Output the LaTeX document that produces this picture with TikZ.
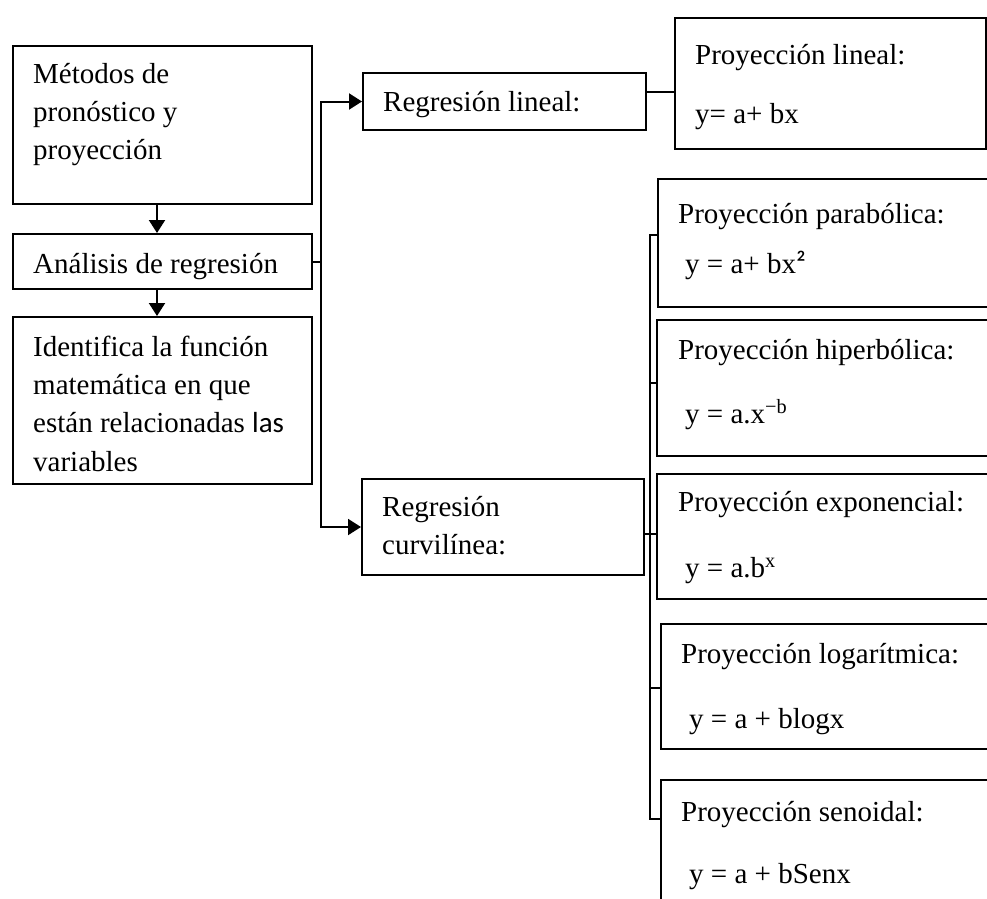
\documentclass[tikz,border=0pt]{standalone}
\usepackage{fontspec}
\setmainfont{Liberation Serif}
\newfontfamily\altsans{Carlito}
\usetikzlibrary{arrows.meta}

\begin{document}
\begin{tikzpicture}[x=1pt,y=-1pt,
  box/.style={draw, line width=2pt, rectangle, inner sep=0pt, anchor=north west},
  txt/.style={anchor=base west, inner sep=0pt, font=\fontsize{29}{38}\selectfont},
  link/.style={line width=2pt},
  thinlink/.style={line width=1.5pt},
  arr/.style={line width=2pt, -{Triangle[width=16pt,length=13pt]}}]
\useasboundingbox (0,0) rectangle (987,898);

% left column
\node[box, minimum width=299pt, minimum height=158pt] (metodos) at (12,45) {};
\node[box, minimum width=299pt, minimum height=55pt] (analisis) at (12,233) {};
\node[box, minimum width=299pt, minimum height=167pt] (identifica) at (12,316) {};

\node[txt] (t1a) at (33,83) {Métodos de};
\node[txt] (t1b) at (33,121) {pronóstico y};
\node[txt] (t1c) at (33,159) {proyección};
\node[txt] (t2) at (33,273) {Análisis de regresión};
\node[txt] (t3a) at (33,356) {Identifica la función};
\node[txt] (t3b) at (33,394) {matemática en que};
\node[txt] (t3c) at (33,432) {están relacionadas {\altsans las}};
\node[txt] (t3d) at (33,471) {variables};

% middle column
\node[box, minimum width=283pt, minimum height=57pt] (rlineal) at (362,72) {};
\node[box, minimum width=282pt, minimum height=96pt] (rcurv) at (361,478) {};
\node[txt] (trl) at (383,111) {Regresión lineal:};
\node[txt] (trc1) at (382,516) {Regresión};
\node[txt] (trc2) at (382,554) {curvilínea:};

% right column
\node[box, minimum width=311pt, minimum height=131pt] (plineal) at (674,17) {};
\node[box, minimum width=343pt, minimum height=128pt] (pparab) at (657,178) {};
\node[box, minimum width=344pt, minimum height=136pt] (phiper) at (656,319) {};
\node[box, minimum width=344pt, minimum height=125pt] (pexpo) at (656,473) {};
\node[box, minimum width=340pt, minimum height=125pt] (plog) at (660,623) {};
\node[box, minimum width=340pt, minimum height=141pt] (pseno) at (660,779) {};

\node[txt] (tpl1) at (695,64) {Proyección lineal:};
\node[txt] (tpl2) at (695,123) {y= a+ bx};
\node[txt] (tpp1) at (678,223) {Proyección parabólica:};
\node[txt] (tpp2) at (685,273) {y = a+ bx{\altsans ²}};
\node[txt] (tph1) at (678,359) {Proyección hiperbólica:};
\node[txt] (tph2) at (685,423) {y = a.x\textsuperscript{−b}};
\node[txt] (tpe1) at (678,511) {Proyección exponencial:};
\node[txt] (tpe2) at (685,577) {y = a.b\textsuperscript{x}};
\node[txt] (tpg1) at (681,663) {Proyección logarítmica:};
\node[txt] (tpg2) at (689,728) {y = a + blogx};
\node[txt] (tps1) at (681,821) {Proyección senoidal:};
\node[txt] (tps2) at (689,883) {y = a + bSenx};

% connectors on the left
\coordinate (ax) at (157,0);
\draw[arr] (metodos.south -| ax) -- (analisis.north -| ax);
\draw[arr] (analisis.south -| ax) -- (identifica.north -| ax);
\coordinate (lb) at (321,253);
\draw[link] (analisis.east) -- (analisis.east -| lb);
\draw[arr] (analisis.east -| lb) |- (rlineal.west);
\draw[arr] (analisis.east -| lb) |- (rcurv.west);

% linear branch
\coordinate (j) at (0,92);
\draw[thinlink] (rlineal.east |- j) -- (plineal.west |- j);

% curvilinear bracket
\coordinate (k1) at (650,235);
\coordinate (k2) at (650,383);
\coordinate (k3) at (650,534);
\coordinate (k4) at (650,688);
\coordinate (k5) at (650,819);
\draw[thinlink] (pparab.west |- k1) -- (k1) -- (k5) -- (pseno.west |- k5);
\draw[thinlink] (k2) -- (phiper.west |- k2);
\draw[thinlink] (rcurv.east |- k3) -- (pexpo.west |- k3);
\draw[thinlink] (k4) -- (plog.west |- k4);
\end{tikzpicture}
\end{document}
